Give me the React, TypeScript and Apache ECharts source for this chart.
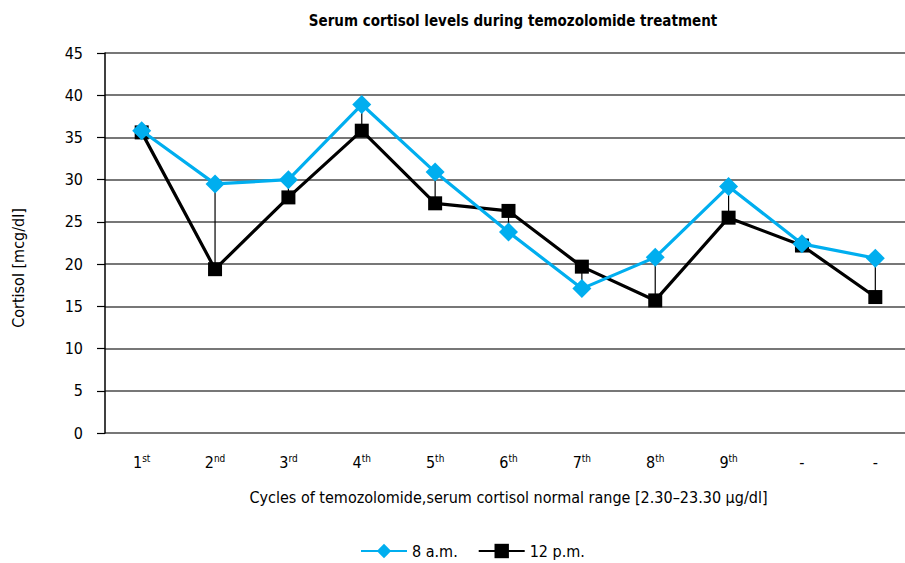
import React, { useEffect, useRef } from "react";
import * as echarts from "echarts";

const TITLE = "Serum cortisol levels during temozolomide treatment";
const X_NAME = "Cycles of temozolomide,serum cortisol normal range [2.30\u201323.30 \u03bcg/dl]";
const Y_NAME = "Cortisol [mcg/dl]";
const CATEGORIES = ["1st", "2nd", "3rd", "4th", "5th", "6th", "7th", "8th", "9th", "-", "-"];
const AM_8 = [35.8, 29.5, 30.0, 38.9, 30.9, 23.8, 17.1, 20.8, 29.2, 22.4, 20.7];
const PM_12 = [35.6, 19.4, 27.9, 35.8, 27.2, 26.3, 19.7, 15.7, 25.5, 22.2, 16.1];
const SERIES_NAMES = ["8 a.m.", "12 p.m."];

const FONT = '"Liberation Sans Narrow", "Arial Narrow", "DejaVu Sans Condensed", sans-serif';
const BLUE = "#00AEEF";

export default function App() {
  const ref = useRef<HTMLDivElement>(null);
  useEffect(() => {
    if (!ref.current) return;
    const chart = echarts.init(ref.current, undefined, { renderer: "svg" });
    const option: any = {
      animation: false,
      textStyle: { fontFamily: FONT },
      title: {
        text: TITLE,
        left: 508,
        textAlign: "center",
        top: 8,
        textStyle: { fontFamily: FONT, fontSize: 15, fontWeight: "bold", color: "#000" },
      },
      grid: { left: 105, right: 0, top: 53, bottom: 130 },
      legend: {
        left: 355,
        top: 538,
        itemWidth: 46,
        itemHeight: 18,
        itemGap: 20,
        data: SERIES_NAMES,
        textStyle: { fontFamily: FONT, fontSize: 16, color: "#000" },
      },
      xAxis: {
        type: "category",
        data: CATEGORIES,
        boundaryGap: true,
        name: X_NAME,
        nameLocation: "middle",
        nameGap: 56,
        nameTextStyle: { fontFamily: FONT, fontSize: 16, color: "#000" },
        axisLine: { show: false },
        axisTick: { show: false },
        axisLabel: {
          margin: 20,
          interval: 0,
          formatter: (v: string) => {
            const m = /^(\d+)(\D+)$/.exec(v);
            if (m) return `{n|${m[1]}}{s|${m[2]}}`;
            return `{n|${v}}`;
          },
          rich: {
            n: { fontFamily: FONT, fontSize: 16, color: "#000", lineHeight: 18 },
            s: { fontFamily: FONT, fontSize: 10, color: "#000", verticalAlign: "top", lineHeight: 18, padding: [0, 0, 6, 0] },
          },
        },
      },
      yAxis: {
        type: "value",
        min: 0,
        max: 45,
        interval: 5,
        axisLine: { show: true, lineStyle: { color: "#000", width: 1.5 } },
        axisTick: { show: true, length: 8, lineStyle: { color: "#000", width: 1.2 } },
        axisLabel: { margin: 22, fontFamily: FONT, fontSize: 16, color: "#000" },
        splitLine: { show: true, lineStyle: { color: "#4a4a4a", width: 1.5 } },
      },
      graphic: [
        {
          type: "text",
          x: 18,
          y: 268,
          rotation: Math.PI / 2,
          style: {
            text: Y_NAME,
            fontFamily: FONT,
            fontSize: 16,
            fill: "#000",
            align: "center",
            verticalAlign: "middle",
          },
        },
      ],
      series: [
        {
          type: "custom",
          silent: true,
          z: 1,
          data: AM_8.map((v, i) => [i, v, PM_12[i]]),
          encode: { x: 0, y: [1, 2] },
          renderItem: (params: any, api: any) => {
            const p1 = api.coord([api.value(0), api.value(1)]);
            const p2 = api.coord([api.value(0), api.value(2)]);
            return {
              type: "line",
              shape: { x1: p1[0], y1: p1[1], x2: p2[0], y2: p2[1] },
              style: { stroke: "#000", lineWidth: 1.2 },
            };
          },
        },
        {
          name: SERIES_NAMES[1],
          type: "line",
          data: PM_12,
          z: 3,
          symbol: "rect",
          symbolSize: 14,
          itemStyle: { color: "#000" },
          lineStyle: { color: "#000", width: 3.2 },
        },
        {
          name: SERIES_NAMES[0],
          type: "line",
          data: AM_8,
          z: 4,
          symbol: "diamond",
          symbolSize: 19,
          itemStyle: { color: BLUE },
          lineStyle: { color: BLUE, width: 3.2 },
        },
      ],
    };
    chart.setOption(option);
    return () => chart.dispose();
  }, []);
  return (
    <div style={{ position: "absolute", left: 0, top: 0, width: 905, height: 563, overflow: "hidden" }}>
      <div ref={ref} style={{ width: 912, height: 563 }} />
    </div>
  );
}
